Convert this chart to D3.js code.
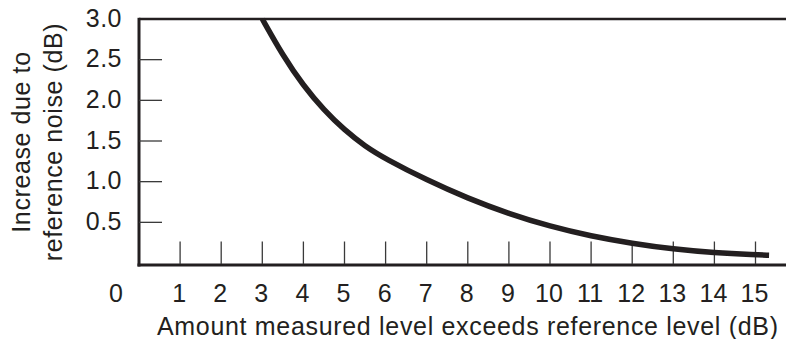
<!DOCTYPE html>
<html>
<head>
<meta charset="utf-8">
<script src="https://cdn.jsdelivr.net/npm/d3@7"></script>
<style>
  html, body { margin: 0; padding: 0; background: #fff; }
  svg { display: block; }
  text { font-family: "Liberation Sans", Arial, Helvetica, sans-serif; fill: #231f20; }
</style>
</head>
<body>
<svg id="chart" width="786" height="339"></svg>
<script>
// ---- data ----
const xValues = [3, 3.5, 4, 4.5, 5, 5.5, 6, 7, 8, 9, 10, 11, 12, 13, 14, 15, 15.33];
const yValues = [3.0, 2.55, 2.18, 1.88, 1.635, 1.435, 1.28, 1.02, 0.795, 0.605, 0.45, 0.33, 0.24, 0.17, 0.125, 0.10, 0.095];
const xTicks = [0, 1, 2, 3, 4, 5, 6, 7, 8, 9, 10, 11, 12, 13, 14, 15];
const yTicks = [0.5, 1.0, 1.5, 2.0, 2.5, 3.0];
const xTitle = "Amount measured level exceeds reference level (dB)";
const yTitleLines = ["Increase due to", "reference noise (dB)"];

// ---- layout ----
const W = 786, H = 339;
const ink = "#231f20";
const svg = d3.select("#chart");
const x = d3.scaleLinear().domain([0, 15]).range([139, 755.5]);
const y = d3.scaleLinear().domain([0, 3]).range([263, 19]);
const fs = 25;

// frame: top line, left line, bottom axis line
svg.append("line").attr("x1", x(0)).attr("x2", W).attr("y1", y(3)).attr("y2", y(3))
  .attr("stroke", ink).attr("stroke-width", 2.5);
svg.append("line").attr("x1", x(0)).attr("x2", x(0)).attr("y1", y(3) - 1.2).attr("y2", y(0) + 3.5)
  .attr("stroke", ink).attr("stroke-width", 3);
svg.append("line").attr("x1", x(0) - 1.5).attr("x2", W).attr("y1", y(0) + 2).attr("y2", y(0) + 2)
  .attr("stroke", ink).attr("stroke-width", 3);

// y ticks (inward) and labels
const yTickG = svg.append("g");
yTickG.selectAll("line").data(yTicks.filter(d => d < 3)).join("line")
  .attr("x1", x(0)).attr("x2", x(0) + 23)
  .attr("y1", d => y(d)).attr("y2", d => y(d))
  .attr("stroke", "#3a3a3a").attr("stroke-width", 1.3);
yTickG.selectAll("text").data(yTicks).join("text")
  .attr("x", 122).attr("y", d => y(d) + 1)
  .attr("text-anchor", "end").attr("dominant-baseline", "middle")
  .attr("font-size", fs).attr("letter-spacing", 0.5)
  .text(d => d.toFixed(1));

// x ticks (inward) and labels
const xTickG = svg.append("g");
xTickG.selectAll("line").data(xTicks.filter(d => d > 0)).join("line")
  .attr("x1", d => x(d)).attr("x2", d => x(d))
  .attr("y1", y(0) + 1).attr("y2", y(0) - 21.5)
  .attr("stroke", "#3a3a3a").attr("stroke-width", 1.3);
xTickG.selectAll("text").data(xTicks).join("text")
  .attr("x", d => d === 0 ? x(d) - 23 : x(d) - 1)
  .attr("y", 302)
  .attr("text-anchor", "middle")
  .attr("font-size", fs)
  .text(d => String(d));

// axis titles
svg.append("text").attr("x", 157).attr("y", 334.5)
  .attr("font-size", fs).attr("textLength", 621).attr("lengthAdjust", "spacing")
  .text(xTitle);

const yt = svg.append("text")
  .attr("transform", "translate(0,142) rotate(-90)")
  .attr("text-anchor", "middle")
  .attr("font-size", fs).attr("letter-spacing", 0.6);
yt.append("tspan").attr("x", 0).attr("y", 30).text(yTitleLines[0]);
yt.append("tspan").attr("x", 0).attr("y", 62).text(yTitleLines[1]);

// curve
const pts = xValues.map((v, i) => [v, yValues[i]]);
const line = d3.line().x(d => x(d[0])).y(d => y(d[1])).curve(d3.curveBasis);
svg.append("path").attr("d", line(pts))
  .attr("fill", "none").attr("stroke", ink).attr("stroke-width", 5.5)
  .attr("stroke-linecap", "butt");
</script>
</body>
</html>
